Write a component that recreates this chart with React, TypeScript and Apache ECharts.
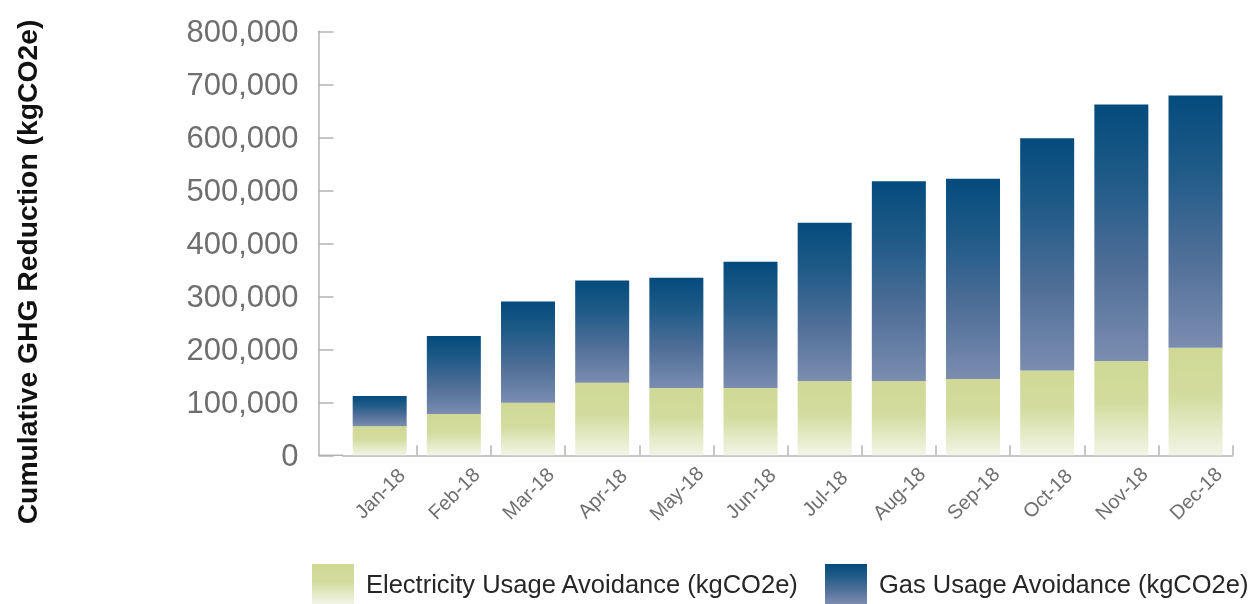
import React, { useEffect, useRef } from "react";
import * as echarts from "echarts";

const categories = ["Jan-18", "Feb-18", "Mar-18", "Apr-18", "May-18", "Jun-18", "Jul-18", "Aug-18", "Sep-18", "Oct-18", "Nov-18", "Dec-18"];
const electricity = [55000, 78000, 99000, 137000, 127000, 127000, 140000, 140000, 144000, 160000, 178000, 203000];
const gas = [57000, 147000, 191000, 193000, 208000, 238000, 299000, 377000, 378000, 438000, 484000, 476000];
const yTicks = { min: 0, max: 800000, interval: 100000 };

const elecName = "Electricity Usage Avoidance (kgCO2e)";
const gasName = "Gas Usage Avoidance (kgCO2e)";
const yTitle = "Cumulative GHG Reduction (kgCO2e)";

export default function App() {
  const ref = useRef<HTMLDivElement>(null);
  useEffect(() => {
    if (!ref.current) return;
    const chart = echarts.init(ref.current, null, { renderer: "svg" });
    const elecGrad = new echarts.graphic.LinearGradient(0, 0, 0, 1, [
      { offset: 0, color: "#cfd994" },
      { offset: 0.45, color: "#d3dc9f" },
      { offset: 1, color: "#f3f5e7" },
    ]);
    const gasGrad = new echarts.graphic.LinearGradient(0, 0, 0, 1, [
      { offset: 0, color: "#044b7d" },
      { offset: 0.3, color: "#205b88" },
      { offset: 0.65, color: "#506f98" },
      { offset: 1, color: "#7b8db0" },
    ]);
    const font = "'Liberation Sans', Arial, Helvetica, sans-serif";
    const legendBase = {
      top: 564,
      padding: 0,
      itemWidth: 42,
      itemHeight: 40,
      icon: "rect",
      selectedMode: false,
      textStyle: { fontFamily: font, fontSize: 25.5, color: "#262626", padding: [0, 0, 0, 7] },
    };
    chart.setOption({
      animation: false,
      grid: { left: 342.6, right: 23.4, top: 31.3, bottom: 148.7, containLabel: false },
      legend: [
        { ...legendBase, data: [elecName], left: 312 },
        { ...legendBase, data: [gasName], left: 825 },
      ],
      xAxis: {
        type: "category",
        data: categories,
        axisLine: { show: true, lineStyle: { color: "#b3b3b3", width: 1.5 } },
        axisTick: {
          show: true,
          inside: true,
          length: 10,
          interval: (index: number) => index !== 0,
          lineStyle: { color: "#b3b3b3", width: 1.5 },
        },
        axisLabel: {
          rotate: 45,
          align: "center",
          verticalAlign: "middle",
          margin: 38,
          fontFamily: font,
          fontSize: 20,
          color: "#6f6f6f",
        },
      },
      yAxis: {
        type: "value",
        min: yTicks.min,
        max: yTicks.max,
        interval: yTicks.interval,
        offset: 24,
        axisLine: { show: true, lineStyle: { color: "#b3b3b3", width: 1.5 } },
        axisTick: { show: true, inside: true, length: 15, lineStyle: { color: "#b3b3b3", width: 1.5 } },
        splitLine: { show: false },
        axisLabel: {
          margin: 20,
          fontFamily: font,
          fontSize: 31,
          color: "#6e6e6e",
          formatter: (v: number) => v.toLocaleString("en-US"),
        },
      },
      graphic: [
        {
          type: "line",
          shape: { x1: 318.6, y1: 455.3, x2: 343, y2: 455.3 },
          style: { stroke: "#b3b3b3", lineWidth: 1.5 },
        },
        {
          type: "text",
          x: 27,
          y: 272,
          rotation: Math.PI / 2,
          style: {
            text: yTitle,
            fontFamily: font,
            fontWeight: "bold",
            fontSize: 28.3,
            fill: "#111111",
            align: "center",
            verticalAlign: "middle",
          },
        },
      ],
      series: [
        {
          name: elecName,
          type: "bar",
          stack: "total",
          data: electricity,
          barWidth: 54,
          itemStyle: { color: elecGrad },
        },
        {
          name: gasName,
          type: "bar",
          stack: "total",
          data: gas,
          barWidth: 54,
          itemStyle: { color: gasGrad },
        },
      ],
    });
    return () => chart.dispose();
  }, []);
  return <div ref={ref} style={{ position: "fixed", left: 0, top: 0, width: 1256, height: 604 }} />;
}
